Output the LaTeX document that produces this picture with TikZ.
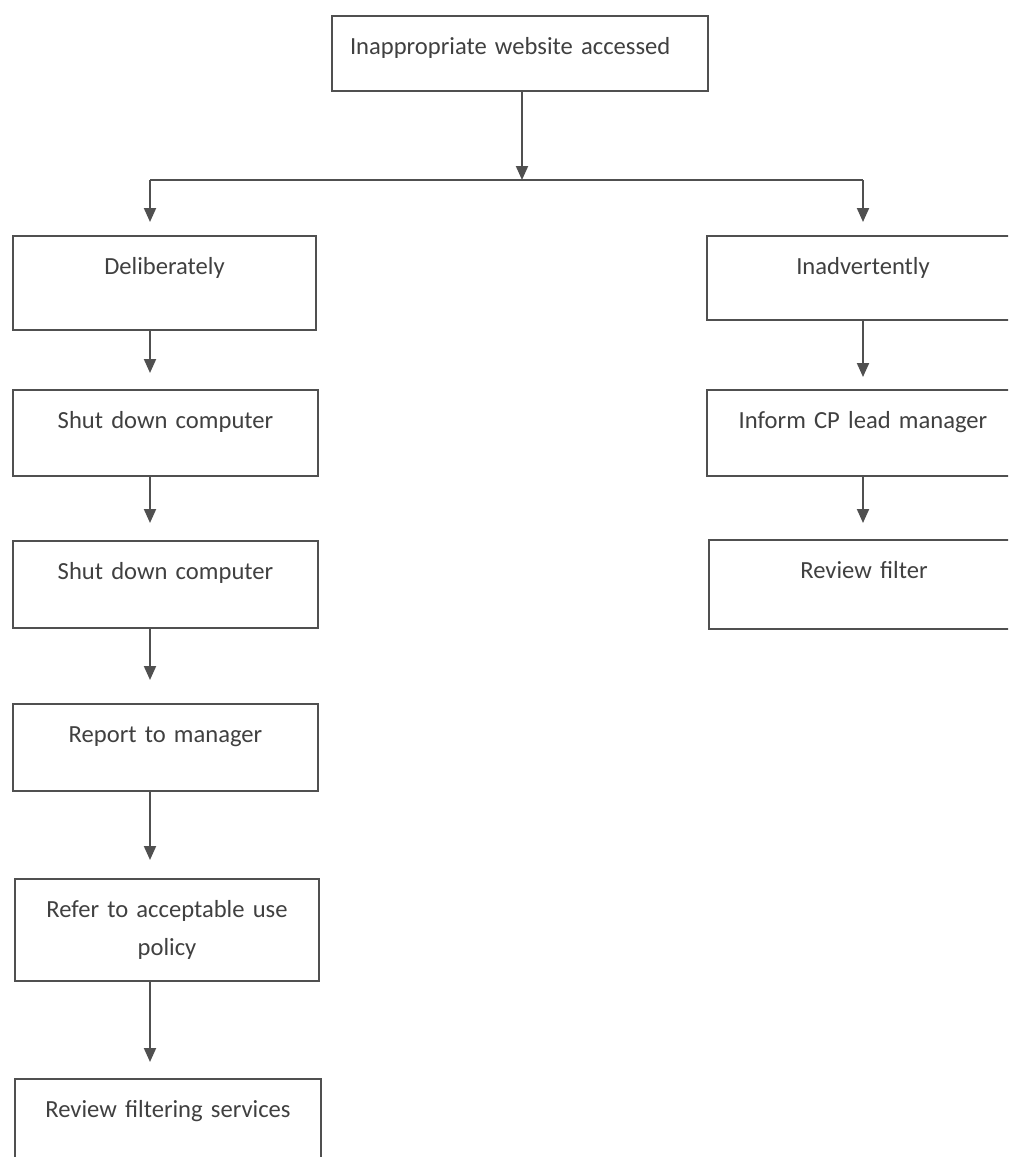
\documentclass[tikz,border=0pt]{standalone}
\usepackage{fontspec}
\setmainfont{Carlito}
\usetikzlibrary{arrows.meta}
\definecolor{linegray}{HTML}{505050}
\definecolor{textgray}{HTML}{404040}
\begin{document}
\begin{tikzpicture}[x=0.5pt,y=-0.5pt,
  every node/.style={font=\fontsize{12.3}{19}\selectfont, text=textgray},
  flowbox/.style={draw=linegray, line width=1pt, anchor=north west, inner ysep=0pt, inner xsep=2pt, align=center, text height=19pt},
  ln/.style={draw=linegray, line width=1pt},
  arr/.style={ln, -{Triangle[length=7pt,width=6pt]}}]
\clip (0,0) rectangle (1008,1157);
\fill[white] (0,0) rectangle (1008,1157);
% boxes
\node[flowbox, align=left, inner xsep=9pt, text width=170pt, text depth=18.5pt] (A) at (331,15) {Inappropriate website accessed};
\node[flowbox, text width=147.5pt, text depth=28pt] (B) at (12,235) {Deliberately};
\node[flowbox, text width=148.5pt, text depth=24pt] (C) at (12,389) {Shut down computer};
\node[flowbox, text width=148.5pt, text depth=24.5pt] (D) at (12,540) {Shut down computer};
\node[flowbox, text width=148.5pt, text depth=24.5pt] (E) at (12,703) {Report to manager};
\node[draw=linegray, line width=1pt, anchor=north west, inner sep=0pt, align=center, minimum width=152pt, minimum height=51pt, text width=148pt] (F) at (14,878) {Refer to acceptable use\\policy};
\node[flowbox, text width=149pt, text depth=31pt] (G) at (14,1078) {Review filtering services};
\node[flowbox, text width=152pt, text depth=23pt] (H) at (706,235) {Inadvertently};
\node[flowbox, text width=152pt, text depth=24pt] (I) at (706,389) {Inform CP lead manager};
\node[flowbox, text width=151pt, text depth=25.5pt] (J) at (708,539) {Review filter};
% connectors
\coordinate (split) at (522,180);
\coordinate (bl) at (150,180);
\coordinate (br) at (863,180);
\draw[ln] (bl) -- (br);
\draw[arr] (A.south -| split) -- (split);
\draw[arr, shorten >=6.5pt] (bl) -- (B.north -| bl);
\draw[arr, shorten >=6.5pt] (br) -- (H.north -| br);
\draw[arr, shorten >=8pt] (B.south -| bl) -- (C.north -| bl);
\draw[arr, shorten >=8.5pt] (C.south -| bl) -- (D.north -| bl);
\draw[arr, shorten >=11.5pt] (D.south -| bl) -- (E.north -| bl);
\draw[arr, shorten >=9pt] (E.south -| bl) -- (F.north -| bl);
\draw[arr, shorten >=8pt] (F.south -| bl) -- (G.north -| bl);
\draw[arr, shorten >=6pt] (H.south -| br) -- (I.north -| br);
\draw[arr, shorten >=8pt] (I.south -| br) -- (J.north -| br);
\end{tikzpicture}
\end{document}
